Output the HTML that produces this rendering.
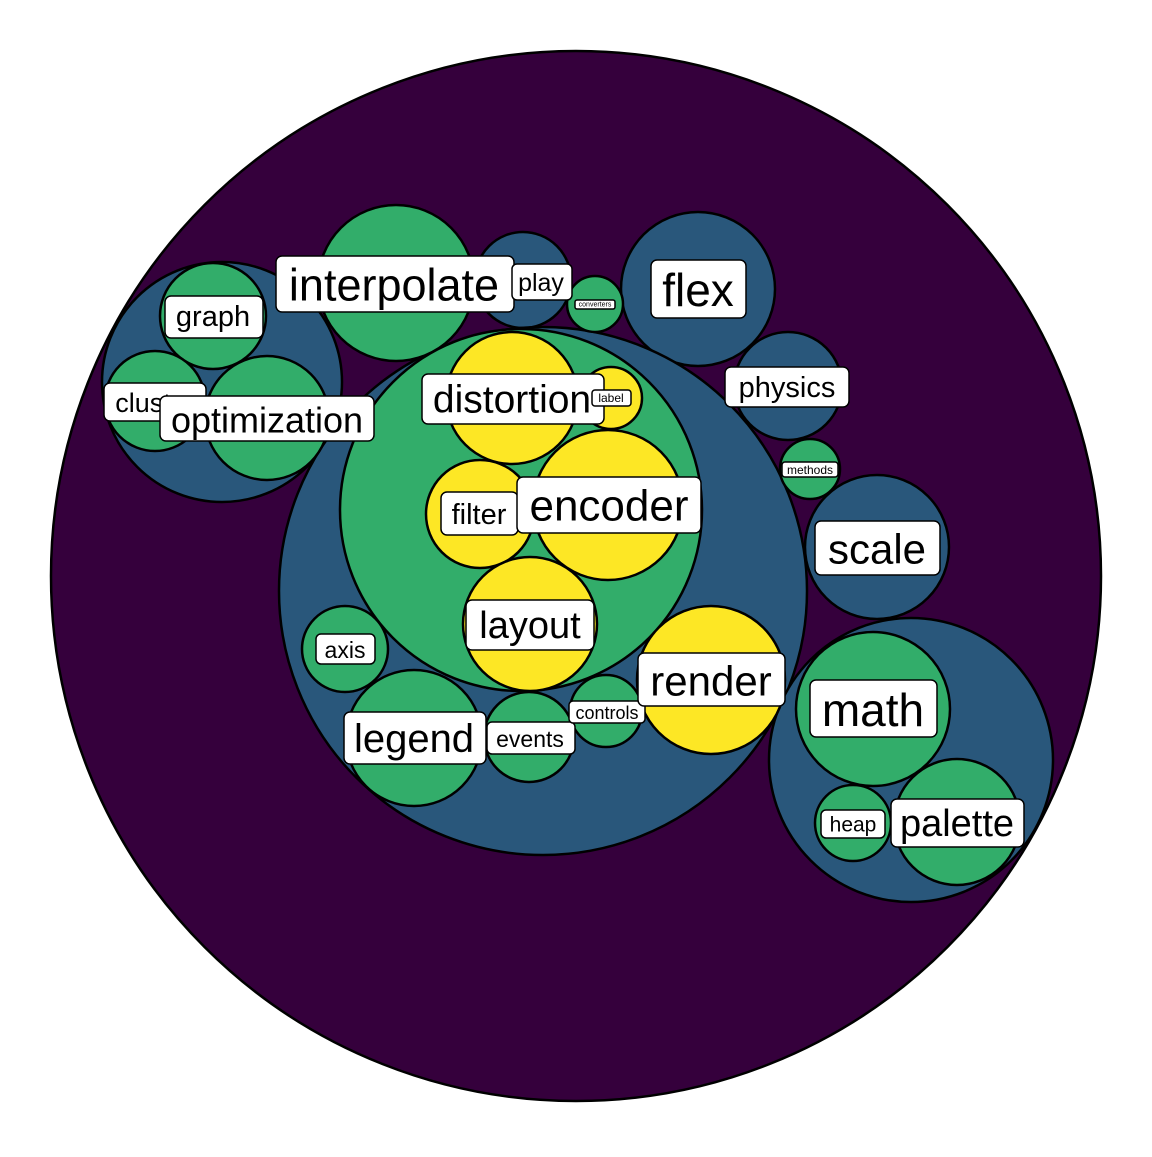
<!DOCTYPE html>
<html><head><meta charset="utf-8"><style>
html,body{margin:0;padding:0;background:#fff}
svg text{font-family:"Liberation Sans",sans-serif;text-anchor:middle;dominant-baseline:central;fill:#000}
</style></head><body>
<svg width="1152" height="1152" viewBox="0 0 1152 1152" xmlns="http://www.w3.org/2000/svg">
<g stroke="#000" stroke-width="2.5">
<circle cx="576" cy="576" r="525" fill="#35003c"/>
<circle cx="222" cy="382" r="120" fill="#29577b"/>
<circle cx="523" cy="280" r="48" fill="#29577b"/>
<circle cx="698" cy="289" r="77" fill="#29577b"/>
<circle cx="788" cy="386" r="54" fill="#29577b"/>
<circle cx="877" cy="547" r="72" fill="#29577b"/>
<circle cx="543" cy="591" r="264" fill="#29577b"/>
<circle cx="911" cy="760" r="142" fill="#29577b"/>
<circle cx="213" cy="316" r="53" fill="#32ad6a"/>
<circle cx="155" cy="401" r="50" fill="#32ad6a"/>
<circle cx="267" cy="418" r="62" fill="#32ad6a"/>
<circle cx="396" cy="283" r="78" fill="#32ad6a"/>
<circle cx="595" cy="304" r="28" fill="#32ad6a"/>
<circle cx="810" cy="469" r="30" fill="#32ad6a"/>
<circle cx="521" cy="510" r="181" fill="#32ad6a"/>
<circle cx="345" cy="649" r="43" fill="#32ad6a"/>
<circle cx="414" cy="738" r="68" fill="#32ad6a"/>
<circle cx="529" cy="737" r="45" fill="#32ad6a"/>
<circle cx="606" cy="711" r="36" fill="#32ad6a"/>
<circle cx="873" cy="709" r="77" fill="#32ad6a"/>
<circle cx="853" cy="823" r="38" fill="#32ad6a"/>
<circle cx="957" cy="822" r="63" fill="#32ad6a"/>
<circle cx="512" cy="398" r="66" fill="#fde725"/>
<circle cx="611" cy="398" r="31" fill="#fde725"/>
<circle cx="480" cy="514" r="54" fill="#fde725"/>
<circle cx="608" cy="505" r="75" fill="#fde725"/>
<circle cx="530" cy="624" r="67" fill="#fde725"/>
<circle cx="711" cy="680" r="74" fill="#fde725"/>
</g>
<g stroke="#000" stroke-width="1.5" fill="#fff">
<rect x="165" y="296" width="98" height="42" rx="6"/>
<rect x="104" y="383" width="102" height="38" rx="6"/>
</g>
<text x="213" y="317" font-size="29">graph</text>
<text x="155" y="403" font-size="27">cluster</text>
<g stroke="#000" stroke-width="1.5" fill="#fff">
<rect x="160" y="396" width="214" height="45" rx="6"/>
<rect x="276" y="256" width="238" height="56" rx="6"/>
<rect x="512" y="264" width="60" height="36" rx="5"/>
<rect x="575" y="300" width="40" height="9" rx="2"/>
<rect x="651" y="260" width="95" height="58" rx="6"/>
<rect x="725" y="367" width="124" height="40" rx="6"/>
<rect x="782" y="462" width="56" height="15" rx="3"/>
<rect x="815" y="521" width="125" height="54" rx="6"/>
<rect x="422" y="374" width="182" height="50" rx="6"/>
<rect x="592" y="390" width="39" height="16" rx="3"/>
<rect x="441" y="492" width="77" height="43" rx="6"/>
<rect x="517" y="477" width="184" height="56" rx="6"/>
<rect x="466" y="600" width="128" height="50" rx="6"/>
<rect x="316" y="634" width="59" height="30" rx="5"/>
<rect x="344" y="712" width="142" height="52" rx="6"/>
<rect x="487" y="722" width="88" height="32" rx="5"/>
<rect x="569" y="701" width="76" height="22" rx="4"/>
<rect x="638" y="653" width="147" height="53" rx="6"/>
<rect x="810" y="680" width="127" height="57" rx="6"/>
<rect x="821" y="810" width="64" height="28" rx="5"/>
<rect x="891" y="799" width="133" height="48" rx="6"/>
</g>
<text x="267" y="420" font-size="36">optimization</text>
<text x="394" y="285" font-size="45">interpolate</text>
<text x="541" y="283" font-size="25">play</text>
<text x="595" y="305" font-size="7">converters</text>
<text x="698" y="290" font-size="46">flex</text>
<text x="787" y="388" font-size="29">physics</text>
<text x="810" y="470" font-size="12">methods</text>
<text x="877" y="549" font-size="42">scale</text>
<text x="512" y="400" font-size="39">distortion</text>
<text x="611" y="398" font-size="12">label</text>
<text x="479" y="515" font-size="29">filter</text>
<text x="609" y="506" font-size="44">encoder</text>
<text x="530" y="626" font-size="38">layout</text>
<text x="345" y="650" font-size="23">axis</text>
<text x="414" y="739" font-size="40">legend</text>
<text x="530" y="739" font-size="23">events</text>
<text x="607" y="713" font-size="18">controls</text>
<text x="711" y="681" font-size="42">render</text>
<text x="873" y="710" font-size="46">math</text>
<text x="853" y="825" font-size="21">heap</text>
<text x="957" y="824" font-size="38">palette</text>
</svg>
</body></html>
